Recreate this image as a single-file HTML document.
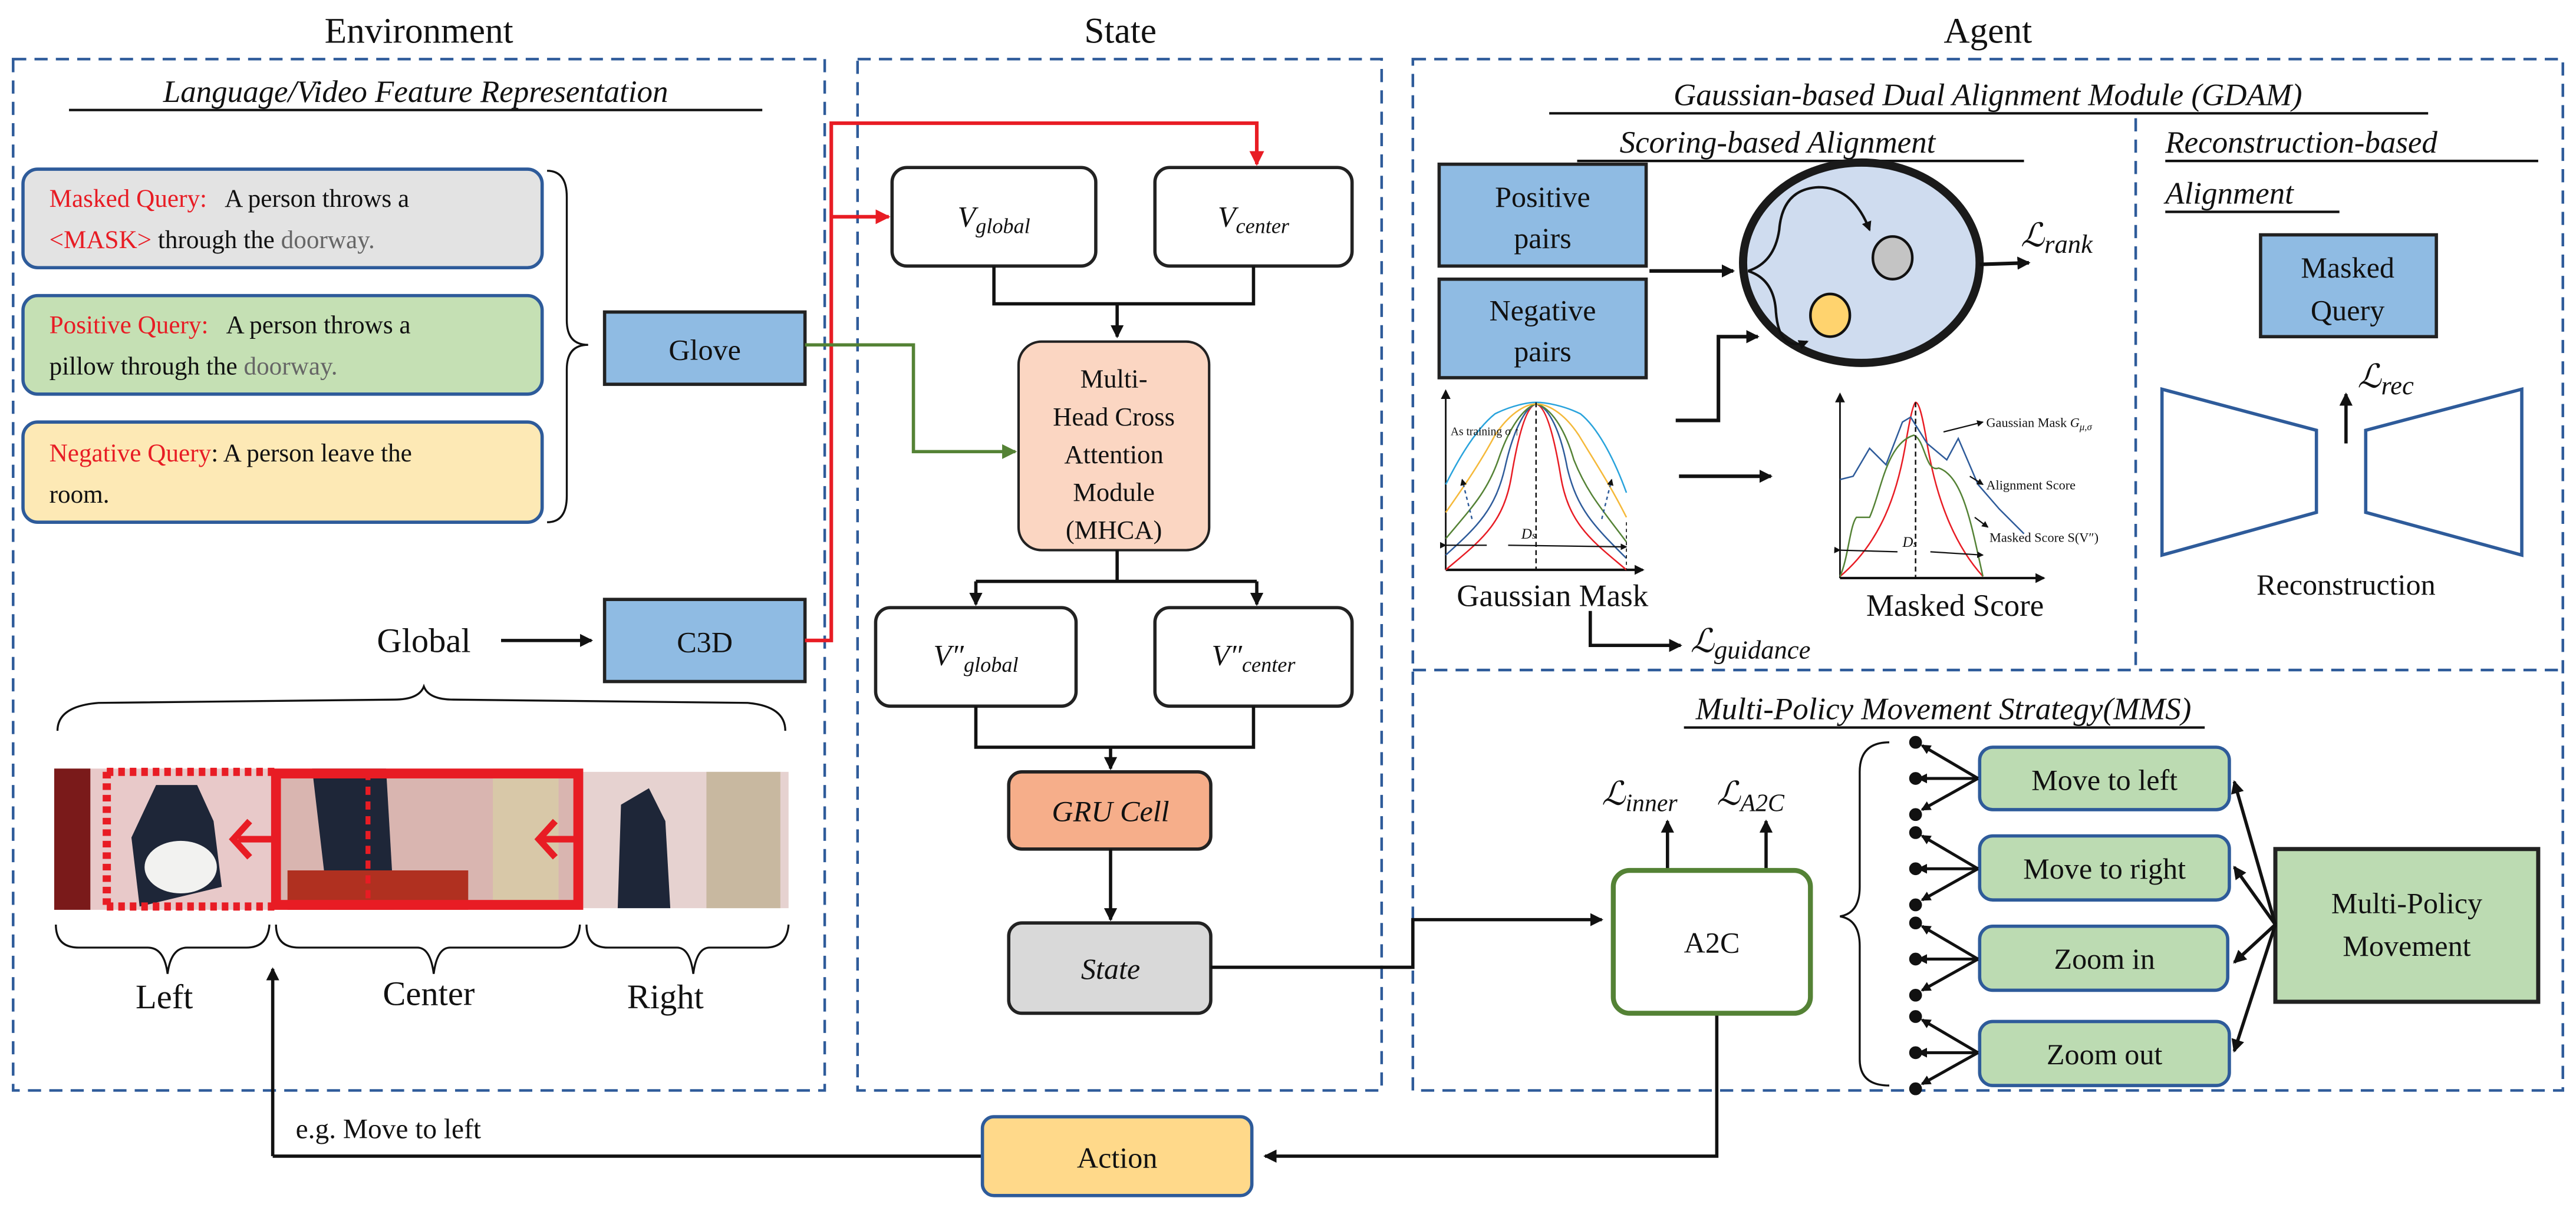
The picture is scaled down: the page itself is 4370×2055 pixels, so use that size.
<!DOCTYPE html>
<html><head><meta charset="utf-8">
<style>
html,body{margin:0;padding:0;background:#fff;}
svg{display:block;}
text{font-family:"Liberation Serif",serif;fill:#111;}
.it{font-style:italic;}
</style></head>
<body>
<svg width="4370" height="2055" viewBox="0 0 1568 737.4" preserveAspectRatio="none" xmlns="http://www.w3.org/2000/svg">
<defs>
<marker id="ah" markerWidth="8" markerHeight="8" refX="7" refY="4" orient="auto" markerUnits="userSpaceOnUse"><path d="M0,0 L8,4 L0,8 z" fill="#111"/></marker>
<marker id="ahr" markerWidth="9" markerHeight="9" refX="8" refY="4.5" orient="auto" markerUnits="userSpaceOnUse"><path d="M0,0 L9,4.5 L0,9 z" fill="#e81c24"/></marker>
<marker id="ahg" markerWidth="9" markerHeight="9" refX="8" refY="4.5" orient="auto" markerUnits="userSpaceOnUse"><path d="M0,0 L9,4.5 L0,9 z" fill="#548235"/></marker>
<marker id="ahs" markerWidth="6" markerHeight="6" refX="5" refY="3" orient="auto" markerUnits="userSpaceOnUse"><path d="M0,0 L6,3 L0,6 z" fill="#111"/></marker>
<marker id="aht" markerWidth="4" markerHeight="4" refX="3.5" refY="2" orient="auto" markerUnits="userSpaceOnUse"><path d="M0,0 L4,2 L0,4 z" fill="#111"/></marker>
</defs>

<text x="255" y="26" font-size="22" text-anchor="middle">Environment</text>
<text x="682" y="26" font-size="22" text-anchor="middle">State</text>
<text x="1210" y="26" font-size="22" text-anchor="middle">Agent</text>

<g fill="none" stroke="#2e5b9a" stroke-width="1.6" stroke-dasharray="8,5">
<rect x="8" y="36" width="494" height="628"/>
<rect x="522" y="36" width="319" height="628"/>
<rect x="860" y="36" width="700" height="628"/>
<line x1="860" y1="408" x2="1560" y2="408"/>
<line x1="1300" y1="72" x2="1300" y2="408"/>
</g>

<text x="253" y="62" font-size="19" class="it" text-anchor="middle">Language/Video Feature Representation</text>
<line x1="42" y1="67" x2="464" y2="67" stroke="#111" stroke-width="1.5"/>

<rect x="14" y="103" width="316" height="60" rx="9" fill="#e3e3e3" stroke="#2e5b9a" stroke-width="2"/>
<text x="30" y="126" font-size="15.5" xml:space="preserve"><tspan fill="#e81c24">Masked Query:</tspan>   A person throws a</text>
<text x="30" y="151" font-size="15.5"><tspan fill="#e81c24">&lt;MASK&gt;</tspan> through the <tspan fill="#666">doorway.</tspan></text>
<rect x="14" y="180" width="316" height="60" rx="9" fill="#c5e0b4" stroke="#2e5b9a" stroke-width="2"/>
<text x="30" y="203" font-size="15.5" xml:space="preserve"><tspan fill="#e81c24">Positive Query:</tspan>   A person throws a</text>
<text x="30" y="228" font-size="15.5">pillow through the <tspan fill="#666">doorway.</tspan></text>
<rect x="14" y="257" width="316" height="61" rx="9" fill="#fde9b5" stroke="#2e5b9a" stroke-width="2"/>
<text x="30" y="281" font-size="15.5"><tspan fill="#e81c24">Negative Query</tspan>: A person leave the</text>
<text x="30" y="306" font-size="15.5">room.</text>

<path d="M333,104 Q345,104 345,120 L345,195 Q345,210 358,210 Q345,210 345,225 L345,302 Q345,318 333,318" fill="none" stroke="#111" stroke-width="1.2"/>

<rect x="368" y="190" width="122" height="44" fill="#8fbbe3" stroke="#222" stroke-width="2"/>
<text x="429" y="219" font-size="18" text-anchor="middle">Glove</text>

<text x="258" y="397" font-size="21" text-anchor="middle">Global</text>
<line x1="305" y1="390" x2="360" y2="390" stroke="#111" stroke-width="2" marker-end="url(#ah)"/>
<rect x="368" y="365" width="122" height="50" fill="#8fbbe3" stroke="#222" stroke-width="2"/>
<text x="429" y="397" font-size="18" text-anchor="middle">C3D</text>

<path d="M35,445 Q35,430 60,428 L240,426 Q255,426 258,418 Q261,426 276,426 L455,428 Q478,430 478,445" fill="none" stroke="#111" stroke-width="1.2"/>

<rect x="33" y="468" width="132" height="86" fill="#e8c9c9"/>
<rect x="33" y="468" width="22" height="86" fill="#7a1a1a"/>
<path d="M95,478 L120,478 L130,500 L135,540 L85,552 L80,510 z" fill="#1e2638"/>
<ellipse cx="110" cy="528" rx="22" ry="16" fill="#f2f2f0"/>
<rect x="165" y="468" width="190" height="86" fill="#d9b5b0"/>
<path d="M190,468 L235,468 L240,554 L200,554 z" fill="#1e2638"/>
<rect x="300" y="468" width="40" height="86" fill="#d8c8a8"/>
<rect x="175" y="530" width="110" height="24" fill="#b03020"/>
<rect x="355" y="470" width="125" height="83" fill="#e6d2d0"/>
<rect x="430" y="470" width="45" height="83" fill="#c8b8a0"/>
<path d="M378,490 L395,480 L405,500 L408,553 L376,553 z" fill="#1e2638"/>
<rect x="168" y="471" width="184" height="80" fill="none" stroke="#e81c24" stroke-width="6"/>
<path d="M65,470 L168,470 M65,470 L65,552 M65,552 L168,552" fill="none" stroke="#e81c24" stroke-width="5" stroke-dasharray="4,3"/>
<line x1="224" y1="470" x2="224" y2="552" stroke="#e81c24" stroke-width="3" stroke-dasharray="5,4"/>
<line x1="352" y1="511" x2="330" y2="511" stroke="#e81c24" stroke-width="4"/>
<path d="M338,500 L328,511 L338,522" fill="none" stroke="#e81c24" stroke-width="4"/>
<line x1="166" y1="511" x2="145" y2="511" stroke="#e81c24" stroke-width="4"/>
<path d="M152,500 L142,511 L152,522" fill="none" stroke="#e81c24" stroke-width="4"/>

<g fill="none" stroke="#111" stroke-width="1.2">
<path d="M34,563 Q34,577 48,577 L90,577 Q100,577 102,593 Q104,577 114,577 L150,577 Q163,577 164,563"/>
<path d="M168,563 Q168,577 182,577 L254,577 Q262,577 264,593 Q266,577 274,577 L340,577 Q352,577 353,563"/>
<path d="M357,563 Q357,577 370,577 L412,577 Q420,577 422,593 Q424,577 432,577 L466,577 Q479,577 480,563"/>
</g>
<text x="100" y="614" font-size="21" text-anchor="middle">Left</text>
<text x="261" y="612" font-size="21" text-anchor="middle">Center</text>
<text x="405" y="614" font-size="21" text-anchor="middle">Right</text>

<line x1="598" y1="704" x2="166" y2="704" stroke="#111" stroke-width="2"/>
<line x1="166" y1="704" x2="166" y2="590" stroke="#111" stroke-width="2" marker-end="url(#ah)"/>
<text x="180" y="693" font-size="17">e.g. Move to left</text>
<rect x="598" y="680" width="164" height="48" rx="7" fill="#ffd98a" stroke="#2e5b9a" stroke-width="2"/>
<text x="680" y="711" font-size="18" text-anchor="middle">Action</text>
<polyline points="1045,617 1045,704 770,704" fill="none" stroke="#111" stroke-width="2" marker-end="url(#ah)"/>

<polyline points="490,390 506,390 506,75 765,75 765,100" fill="none" stroke="#e81c24" stroke-width="2.2" marker-end="url(#ahr)"/>
<line x1="506" y1="132" x2="541" y2="132" stroke="#e81c24" stroke-width="2.2" marker-end="url(#ahr)"/>
<polyline points="490,210 556,210 556,275 618,275" fill="none" stroke="#548235" stroke-width="2" marker-end="url(#ahg)"/>

<rect x="543" y="102" width="124" height="60" rx="9" fill="#fff" stroke="#222" stroke-width="2"/>
<text x="605" y="138" font-size="18" text-anchor="middle" class="it">V<tspan font-size="13" dy="4">global</tspan></text>
<rect x="703" y="102" width="120" height="60" rx="9" fill="#fff" stroke="#222" stroke-width="2"/>
<text x="763" y="138" font-size="18" text-anchor="middle" class="it">V<tspan font-size="13" dy="4">center</tspan></text>
<polyline points="605,162 605,185 763,185 763,162" fill="none" stroke="#111" stroke-width="2"/>
<line x1="680" y1="185" x2="680" y2="205" stroke="#111" stroke-width="2" marker-end="url(#ah)"/>

<rect x="620" y="208" width="116" height="127" rx="14" fill="#fbd6c2" stroke="#222" stroke-width="1.5"/>
<text x="678" y="236" font-size="16" text-anchor="middle">Multi-</text>
<text x="678" y="259" font-size="16" text-anchor="middle">Head Cross</text>
<text x="678" y="282" font-size="16" text-anchor="middle">Attention</text>
<text x="678" y="305" font-size="16" text-anchor="middle">Module</text>
<text x="678" y="328" font-size="16" text-anchor="middle">(MHCA)</text>

<line x1="680" y1="335" x2="680" y2="354" stroke="#111" stroke-width="2"/>
<line x1="594" y1="354" x2="765" y2="354" stroke="#111" stroke-width="2"/>
<line x1="594" y1="354" x2="594" y2="368" stroke="#111" stroke-width="2" marker-end="url(#ah)"/>
<line x1="765" y1="354" x2="765" y2="368" stroke="#111" stroke-width="2" marker-end="url(#ah)"/>

<rect x="533" y="370" width="122" height="60" rx="9" fill="#fff" stroke="#222" stroke-width="2"/>
<text x="594" y="405" font-size="18" text-anchor="middle" class="it">V″<tspan font-size="13" dy="4">global</tspan></text>
<rect x="703" y="370" width="120" height="60" rx="9" fill="#fff" stroke="#222" stroke-width="2"/>
<text x="763" y="405" font-size="18" text-anchor="middle" class="it">V″<tspan font-size="13" dy="4">center</tspan></text>
<polyline points="594,430 594,455 763,455 763,430" fill="none" stroke="#111" stroke-width="2"/>
<line x1="676" y1="455" x2="676" y2="468" stroke="#111" stroke-width="2" marker-end="url(#ah)"/>

<rect x="614" y="470" width="123" height="47" rx="8" fill="#f6ae8a" stroke="#222" stroke-width="2"/>
<text x="676" y="500" font-size="18" text-anchor="middle" class="it">GRU Cell</text>
<line x1="676" y1="517" x2="676" y2="560" stroke="#111" stroke-width="2" marker-end="url(#ah)"/>
<rect x="614" y="562" width="123" height="55" rx="8" fill="#d9d9d9" stroke="#222" stroke-width="2"/>
<text x="676" y="596" font-size="18" text-anchor="middle" class="it">State</text>
<polyline points="737,589 860,589 860,560 975,560" fill="none" stroke="#111" stroke-width="2" marker-end="url(#ah)"/>

<text x="1210" y="64" font-size="19" class="it" text-anchor="middle">Gaussian-based Dual Alignment Module (GDAM)</text>
<line x1="943" y1="69" x2="1478" y2="69" stroke="#111" stroke-width="1.5"/>
<text x="1082" y="93" font-size="19" class="it" text-anchor="middle">Scoring-based Alignment</text>
<line x1="960" y1="98" x2="1232" y2="98" stroke="#111" stroke-width="1.5"/>
<text x="1318" y="93" font-size="19" class="it">Reconstruction-based</text>
<line x1="1318" y1="98" x2="1545" y2="98" stroke="#111" stroke-width="1.5"/>
<text x="1318" y="124" font-size="19" class="it">Alignment</text>
<line x1="1318" y1="129" x2="1424" y2="129" stroke="#111" stroke-width="1.5"/>

<rect x="876" y="100" width="126" height="62" fill="#8fbbe3" stroke="#222" stroke-width="2"/>
<text x="939" y="126" font-size="18" text-anchor="middle">Positive</text>
<text x="939" y="151" font-size="18" text-anchor="middle">pairs</text>
<rect x="876" y="170" width="126" height="60" fill="#8fbbe3" stroke="#222" stroke-width="2"/>
<text x="939" y="195" font-size="18" text-anchor="middle">Negative</text>
<text x="939" y="220" font-size="18" text-anchor="middle">pairs</text>
<line x1="1004" y1="165" x2="1055" y2="165" stroke="#111" stroke-width="2.2" marker-end="url(#ah)"/>
<polyline points="1020,256 1046,256 1046,205 1070,205" fill="none" stroke="#111" stroke-width="2.2" marker-end="url(#ah)"/>

<ellipse cx="1133" cy="160" rx="72" ry="61" fill="#cfdcef" stroke="#1a1a1a" stroke-width="5"/>
<ellipse cx="1152" cy="157" rx="12" ry="13" fill="#c4c4c4" stroke="#111" stroke-width="1.6"/>
<ellipse cx="1114" cy="192" rx="12" ry="13" fill="#ffd36e" stroke="#111" stroke-width="1.6"/>
<path d="M1064,165 Q1080,160 1083,140 Q1085,115 1107,114 Q1128,114 1138,140" fill="none" stroke="#111" stroke-width="1.5" marker-end="url(#ahs)"/>
<path d="M1064,165 Q1080,170 1081,190 Q1083,215 1100,208" fill="none" stroke="#111" stroke-width="1.5" marker-end="url(#ahs)"/>
<line x1="1205" y1="161" x2="1235" y2="160" stroke="#111" stroke-width="2.2" marker-end="url(#ah)"/>
<text x="1230" y="150" font-size="20" class="it">ℒ<tspan font-size="16" dy="4">rank</tspan></text>

<!-- gaussian plot -->
<g fill="none" stroke-width="0.9">
<line x1="880" y1="347" x2="1000" y2="347" stroke="#111" stroke-width="1.5" marker-end="url(#ahs)"/>
<line x1="880" y1="347" x2="880" y2="238" stroke="#111" stroke-width="1" marker-end="url(#ahs)"/>
<path d="M880,347 C900,330 915,320 920,290 C925,260 930,247 935,246 C940,247 945,260 950,290 C955,320 970,330 990,347" stroke="#e81c24"/>
<path d="M880,338 C900,320 910,310 916,285 C922,258 930,247 935,246 C941,247 949,258 954,285 C960,310 970,320 990,340" stroke="#2e5b9a"/>
<path d="M880,328 C895,310 905,300 912,280 C920,256 930,247 935,246 C941,247 951,256 958,280 C966,300 975,310 990,330" stroke="#548235"/>
<path d="M880,312 C892,295 902,280 910,265 C920,250 930,246 935,246 C941,246 951,250 961,265 C970,280 980,295 990,315" stroke="#f5b93a"/>
<path d="M880,295 C890,275 900,260 910,252 C920,247 930,245 935,245 C941,245 952,247 962,252 C972,260 982,278 990,300" stroke="#29a3dc"/>
<line x1="935" y1="245" x2="935" y2="347" stroke="#111" stroke-dasharray="3,2"/>
<line x1="880" y1="332" x2="905" y2="332" stroke="#111" stroke-width="0.8" marker-start="url(#aht)"/>
<line x1="918" y1="332" x2="990" y2="333" stroke="#111" stroke-width="0.8" marker-end="url(#aht)"/>
<line x1="990" y1="318" x2="990" y2="347" stroke="#111" stroke-width="0.6" stroke-dasharray="2,2"/>
<path d="M896,316 L890,292" stroke="#2e5b9a" stroke-dasharray="2,2" marker-end="url(#aht)"/>
<path d="M975,316 L981,292" stroke="#2e5b9a" stroke-dasharray="2,2" marker-end="url(#aht)"/>
</g>
<text x="883" y="265" font-size="7">As training σ ↑</text>
<text x="926" y="328" font-size="9" class="it">D<tspan font-size="6">s</tspan></text>
<text x="945" y="369" font-size="19" text-anchor="middle">Gaussian Mask</text>
<line x1="1022" y1="290" x2="1078" y2="290" stroke="#111" stroke-width="2.2" marker-end="url(#ah)"/>

<!-- masked score plot -->
<g fill="none" stroke-width="0.9">
<line x1="1120" y1="352" x2="1244" y2="352" stroke="#111" stroke-width="1.5" marker-end="url(#ahs)"/>
<line x1="1120" y1="352" x2="1120" y2="240" stroke="#111" stroke-width="1" marker-end="url(#ahs)"/>
<path d="M1120,351 C1145,330 1155,300 1160,270 C1163,252 1165,245 1166,245 C1168,245 1170,252 1173,270 C1178,300 1188,330 1207,351" stroke="#e81c24"/>
<path d="M1120,292 L1128,290 L1138,273 L1148,283 L1158,257 L1163,254 L1173,270 L1185,280 L1192,267 L1204,295 L1217,310 L1232,325" stroke="#2e5b9a"/>
<path d="M1120,351 C1125,340 1126,320 1130,315 L1138,315 C1145,300 1148,270 1165,265 C1172,268 1172,288 1180,285 C1195,290 1200,320 1207,351" stroke="#548235"/>
<line x1="1166" y1="245" x2="1166" y2="352" stroke="#111" stroke-dasharray="3,2"/>
<line x1="1120" y1="335" x2="1155" y2="336" stroke="#111" stroke-width="0.8" marker-start="url(#aht)"/>
<line x1="1175" y1="336" x2="1207" y2="338" stroke="#111" stroke-width="0.8" marker-end="url(#aht)"/>
<line x1="1183" y1="263" x2="1207" y2="257" stroke="#111" stroke-width="0.8" marker-end="url(#aht)"/>
<line x1="1199" y1="290" x2="1207" y2="295" stroke="#111" stroke-width="0.8" marker-end="url(#aht)"/>
<line x1="1202" y1="315" x2="1210" y2="321" stroke="#111" stroke-width="0.8" marker-end="url(#aht)"/>
</g>
<text x="1158" y="333" font-size="9" class="it">D<tspan font-size="6">s</tspan></text>
<text x="1209" y="260" font-size="8">Gaussian Mask <tspan class="it">G<tspan font-size="6" dy="2">μ,σ</tspan></tspan></text>
<text x="1209" y="298" font-size="8">Alignment Score</text>
<text x="1211" y="330" font-size="8">Masked Score S(V″)</text>
<text x="1190" y="375" font-size="19" text-anchor="middle">Masked Score</text>

<polyline points="968,372 968,393 1023,393" fill="none" stroke="#111" stroke-width="2" marker-end="url(#ah)"/>
<text x="1029" y="397" font-size="20" class="it">ℒ<tspan font-size="16" dy="4">guidance</tspan></text>

<rect x="1376" y="143" width="107" height="62" fill="#8fbbe3" stroke="#222" stroke-width="2"/>
<text x="1429" y="169" font-size="18" text-anchor="middle">Masked</text>
<text x="1429" y="195" font-size="18" text-anchor="middle">Query</text>
<line x1="1428" y1="270" x2="1428" y2="240" stroke="#111" stroke-width="2" marker-end="url(#ah)"/>
<text x="1435" y="236" font-size="20" class="it">ℒ<tspan font-size="16" dy="4">rec</tspan></text>
<polygon points="1316,237 1410,262 1410,312 1316,338" fill="none" stroke="#2e5b9a" stroke-width="2"/>
<polygon points="1440,262 1535,237 1535,338 1440,312" fill="none" stroke="#2e5b9a" stroke-width="2"/>
<text x="1428" y="362" font-size="18" text-anchor="middle">Reconstruction</text>

<text x="1183" y="438" font-size="19" class="it" text-anchor="middle">Multi-Policy Movement Strategy(MMS)</text>
<line x1="1025" y1="443" x2="1342" y2="443" stroke="#111" stroke-width="1.5"/>
<text x="975" y="490" font-size="20" class="it">ℒ<tspan font-size="15" dy="4">inner</tspan></text>
<text x="1045" y="490" font-size="20" class="it">ℒ<tspan font-size="15" dy="4">A2C</tspan></text>
<line x1="1015" y1="530" x2="1015" y2="500" stroke="#111" stroke-width="2" marker-end="url(#ah)"/>
<line x1="1075" y1="530" x2="1075" y2="500" stroke="#111" stroke-width="2" marker-end="url(#ah)"/>
<rect x="982" y="530" width="120" height="87" rx="10" fill="#fff" stroke="#548235" stroke-width="3"/>
<text x="1042" y="580" font-size="18" text-anchor="middle">A2C</text>

<path d="M1150,452 Q1132,452 1132,470 L1132,540 Q1132,556 1120,558 Q1132,560 1132,576 L1132,645 Q1132,661 1150,661" fill="none" stroke="#111" stroke-width="1.2"/>

<g stroke="#2e5b9a" stroke-width="2" fill="#bcdbb2">
<rect x="1205" y="455" width="152" height="38" rx="8"/>
<rect x="1205" y="509" width="152" height="39" rx="8"/>
<rect x="1205" y="564" width="151" height="39" rx="8"/>
<rect x="1205" y="622" width="152" height="39" rx="8"/>
</g>
<text x="1281" y="481" font-size="18" text-anchor="middle">Move to left</text>
<text x="1281" y="535" font-size="18" text-anchor="middle">Move to right</text>
<text x="1281" y="590" font-size="18" text-anchor="middle">Zoom in</text>
<text x="1281" y="648" font-size="18" text-anchor="middle">Zoom out</text>

<g stroke="#111" stroke-width="1.8" fill="#111">
<g id="fan1">
<line x1="1204" y1="474" x2="1170" y2="454" marker-end="url(#ahs)"/>
<line x1="1204" y1="474" x2="1168" y2="474" marker-end="url(#ahs)"/>
<line x1="1204" y1="474" x2="1170" y2="493" marker-end="url(#ahs)"/>
<circle cx="1166" cy="452" r="3"/><circle cx="1166" cy="474" r="3"/><circle cx="1166" cy="496" r="3"/>
</g>
<use href="#fan1" y="55"/>
<use href="#fan1" y="110"/>
<use href="#fan1" y="167"/>
</g>

<rect x="1385" y="517" width="160" height="93" fill="#bcdbb2" stroke="#222" stroke-width="2.5"/>
<text x="1465" y="556" font-size="18" text-anchor="middle">Multi-Policy</text>
<text x="1465" y="582" font-size="18" text-anchor="middle">Movement</text>
<g stroke="#111" stroke-width="2" fill="none">
<line x1="1385" y1="563" x2="1360" y2="476" marker-end="url(#ah)"/>
<line x1="1385" y1="563" x2="1360" y2="528" marker-end="url(#ah)"/>
<line x1="1385" y1="563" x2="1360" y2="586" marker-end="url(#ah)"/>
<line x1="1385" y1="563" x2="1360" y2="640" marker-end="url(#ah)"/>
</g>
</svg>
</body></html>
